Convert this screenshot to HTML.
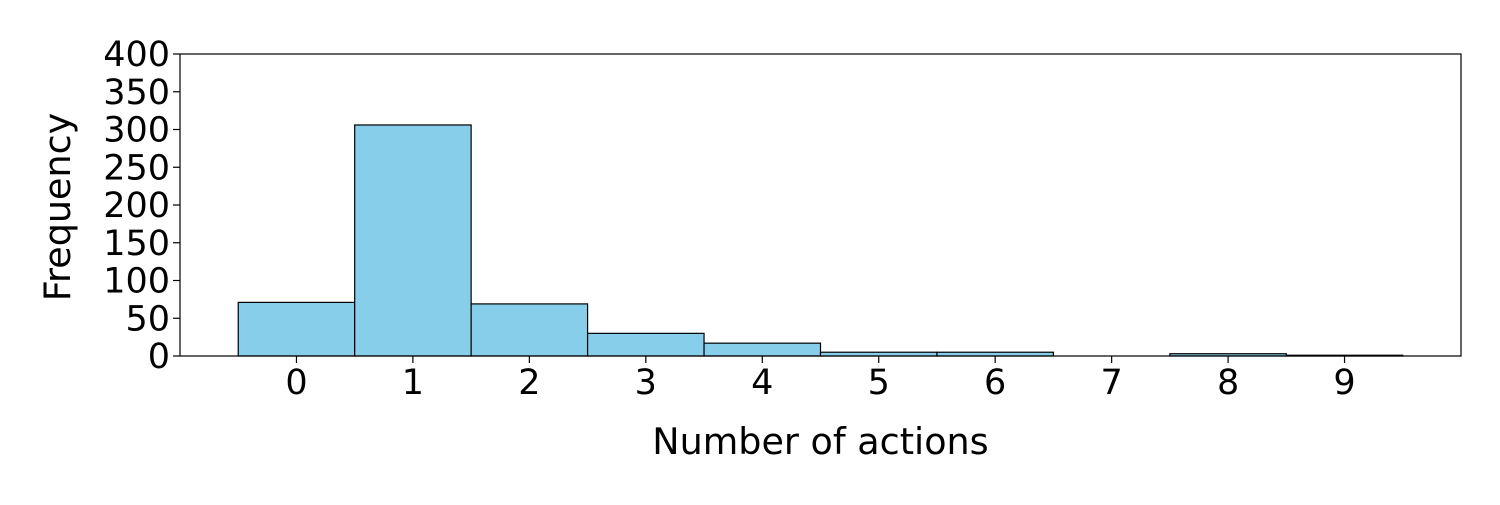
<!DOCTYPE html>
<html><head><meta charset="utf-8"><style>
html,body{margin:0;padding:0;background:#fff;}
svg text{font-family:"DejaVu Sans","Liberation Sans",sans-serif;fill:#000;}
</style></head><body>
<svg id="chart" width="1500" height="500" xmlns="http://www.w3.org/2000/svg">
<g id="bars"></g>
<g id="axes"></g>
</svg>
<script>
const categories = [0,1,2,3,4,5,6,7,8,9];
const frequencies = [71,306,69,30,17,5,5,0,3,1];
const yTicks = [0,50,100,150,200,250,300,350,400];

const L=180,R=1461,T=54,B=356;
const x = v => L + (v + 1) / 11 * (R - L);
const y = v => B - v / 400 * (B - T);
const ns='http://www.w3.org/2000/svg';
function mk(tag, attrs, parent){const e=document.createElementNS(ns,tag);for(const k in attrs)e.setAttribute(k,attrs[k]);parent.appendChild(e);return e;}
const bars=document.getElementById('bars'), axes=document.getElementById('axes');
categories.forEach((c,i)=>{
  const r=mk('rect',{x:x(c-0.5),y:y(frequencies[i]),width:x(c+0.5)-x(c-0.5),height:B-y(frequencies[i]),fill:'#87ceeb',stroke:'#000','stroke-width':1.2},bars);
  
  
});
const frame=mk('rect',{x:L,y:T,width:R-L,height:B-T,fill:'none',stroke:'#000','stroke-width':1.2},axes);


categories.forEach(c=>{
  mk('line',{x1:x(c),x2:x(c),y1:B,y2:B+7,stroke:'#000','stroke-width':1.2},axes);
  const t=mk('text',{x:x(c),y:B+38,'text-anchor':'middle','font-size':35},axes);
  t.textContent=c;
  
  
});
yTicks.forEach(v=>{
  mk('line',{x1:L-7,x2:L,y1:y(v),y2:y(v),stroke:'#000','stroke-width':1.2},axes);
  const t=mk('text',{x:L-10,y:y(v)+12,'text-anchor':'end','font-size':35},axes);
  t.textContent=v;
  
  
});
const xt=mk('text',{x:(L+R)/2,y:454,'text-anchor':'middle','font-size':36.5},axes);
xt.textContent='Number of actions';


const yt=mk('text',{x:0,y:0,'text-anchor':'middle','font-size':36.5,transform:'translate(70,'+((T+B)/2+2)+') rotate(-90)'},axes);
yt.textContent='Frequency';


</script>
</body></html>
